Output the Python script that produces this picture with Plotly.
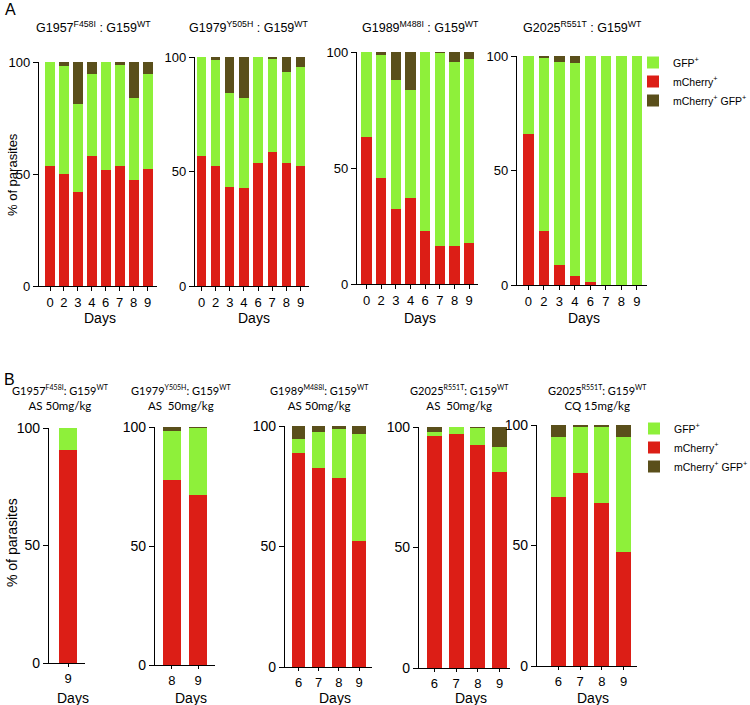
import plotly.graph_objects as go

W, H = 750, 705

# ---------------- DATA ----------------
# Panel A (no drug): segment heights (% of parasites)
a_days = ["0", "2", "3", "4", "6", "7", "8", "9"]

a1_title = "G1957<sup>F458I</sup> : G159<sup>WT</sup>"
a1_mcherry = [53.6, 50.0, 41.8, 57.9, 51.6, 53.6, 47.3, 52.4]
a1_gfp = [46.4, 48.4, 39.3, 36.9, 48.4, 44.9, 36.5, 42.4]
a1_double = [0.0, 1.6, 18.9, 5.2, 0.0, 1.5, 16.2, 5.2]

a2_title = "G1979<sup>Y505H</sup> : G159<sup>WT</sup>"
a2_mcherry = [56.6, 52.2, 43.4, 42.6, 53.9, 58.6, 53.9, 52.3]
a2_gfp = [43.4, 46.6, 40.9, 39.3, 46.1, 40.7, 39.5, 43.2]
a2_double = [0.0, 1.2, 15.7, 18.1, 0.0, 0.7, 6.6, 4.5]

a3_title = "G1989<sup>M488I</sup> : G159<sup>WT</sup>"
a3_mcherry = [63.3, 45.5, 32.4, 37.1, 22.7, 16.3, 16.3, 17.8]
a3_gfp = [36.7, 53.3, 55.5, 46.4, 77.3, 83.3, 79.5, 79.0]
a3_double = [0.0, 1.2, 12.1, 16.5, 0.0, 0.4, 4.2, 3.2]

a4_title = "G2025<sup>R551T</sup> : G159<sup>WT</sup>"
a4_mcherry = [66.1, 23.7, 8.7, 3.8, 1.5, 0.0, 0.0, 0.0]
a4_gfp = [33.9, 75.7, 88.5, 93.0, 98.5, 100.0, 100.0, 100.0]
a4_double = [0.0, 0.6, 2.8, 3.2, 0.0, 0.0, 0.0, 0.0]

# Panel B (drug treated)
SS = '<sup><span style="font-size:7px">{}</span></sup>'
L1 = '<span style="font-size:11px">{}</span>'
b1_title = L1.format("G1957" + SS.format("F458I") + ": G159" + SS.format("WT")) + "<br>AS 50mg/kg"
b1_days = ["9"]
b1_mcherry = [90.8]
b1_gfp = [9.2]
b1_double = [0.0]

b2_title = L1.format("G1979" + SS.format("Y505H") + ": G159" + SS.format("WT")) + "<br>AS  50mg/kg"
b2_days = ["8", "9"]
b2_mcherry = [77.9, 71.5]
b2_gfp = [20.3, 28.1]
b2_double = [1.8, 0.4]

b3_title = L1.format("G1989" + SS.format("M488I") + ": G159" + SS.format("WT")) + "<br>AS 50mg/kg"
b3_days = ["6", "7", "8", "9"]
b3_mcherry = [88.9, 82.6, 78.6, 52.4]
b3_gfp = [5.7, 14.9, 20.3, 44.3]
b3_double = [5.4, 2.5, 1.1, 3.3]

b4_title = L1.format("G2025" + SS.format("R551T") + ": G159" + SS.format("WT")) + "<br>AS  50mg/kg"
b4_days = ["6", "7", "8", "9"]
b4_mcherry = [96.1, 97.0, 92.5, 81.3]
b4_gfp = [2.0, 3.0, 7.1, 10.4]
b4_double = [1.9, 0.0, 0.4, 8.3]

b5_title = L1.format("G2025" + SS.format("R551T") + ": G159" + SS.format("WT")) + "<br>CQ 15mg/kg"
b5_days = ["6", "7", "8", "9"]
b5_mcherry = [70.0, 79.9, 67.8, 47.4]
b5_gfp = [25.0, 19.3, 31.4, 47.6]
b5_double = [5.0, 0.8, 0.8, 5.0]

series_names = ["mCherry<sup>+</sup>", "GFP<sup>+</sup>", "mCherry<sup>+</sup> GFP<sup>+</sup>"]
y_ticks = [0, 50, 100]

# ---------------- STYLE / LAYOUT ----------------
RED = "#dc1e16"
GREEN = "#8ef03a"
DARK = "#5a4f1b"
COLORS = [RED, GREEN, DARK]
RANKS = [2, 1, 3]
FONT = "Liberation Sans, Arial, Helvetica, sans-serif"
BFONT = "Lato, Open Sans, sans-serif"

def px_x(p):
    return p / W

def px_y(p):
    return 1 - p / H

# panel specs: (days, mcherry, gfp, double, title, x_axis_left, x_axis_right,
#               y_at_100, y_at_0, xrange, barwidth, title_x, group)
panels = [
    (a_days, a1_mcherry, a1_gfp, a1_double, a1_title, 39, 157, 62, 286, [-0.79, 7.68], 0.72, 93, "A"),
    (a_days, a2_mcherry, a2_gfp, a2_double, a2_title, 195, 309, 57, 286, [-0.46, 7.6], 0.66, 249, "A"),
    (a_days, a3_mcherry, a3_gfp, a3_double, a3_title, 357, 478, 52, 284, [-0.65, 7.6], 0.7, 420, "A"),
    (a_days, a4_mcherry, a4_gfp, a4_double, a4_title, 517, 647, 56, 285, [-0.74, 7.65], 0.7, 582, "A"),
    (b1_days, b1_mcherry, b1_gfp, b1_double, b1_title, 49, 85, 428, 663, [-0.53, 0.47], 0.5, 61, "B"),
    (b2_days, b2_mcherry, b2_gfp, b2_double, b2_title, 155, 215, 427, 665, [-0.65, 1.65], 0.69, 181, "B"),
    (b3_days, b3_mcherry, b3_gfp, b3_double, b3_title, 285, 372, 426, 667, [-0.67, 3.64], 0.67, 319, "B"),
    (b4_days, b4_mcherry, b4_gfp, b4_double, b4_title, 419, 510, 427, 668, [-0.71, 3.48], 0.69, 459, "B"),
    (b5_days, b5_mcherry, b5_gfp, b5_double, b5_title, 537, 637, 425, 666, [-0.99, 3.62], 0.69, 597, "B"),
]

fig = go.Figure()
layout = {}
annotations = []

for i, (days, m, g, d, title, xl, xr, y100, y0, xrng, bw, tx, grp) in enumerate(panels):
    n = "" if i == 0 else str(i + 1)
    xa, ya = "x" + n, "y" + n
    show_leg = (i == 0) or (i == 4)
    legend_id = "legend" if grp == "A" else "legend2"
    for k, vals in enumerate([m, g, d]):
        fig.add_trace(go.Bar(
            x=days, y=vals, xaxis=xa, yaxis=ya, width=bw,
            marker=dict(color=COLORS[k], line=dict(width=0)),
            name=series_names[k], showlegend=show_leg, legend=legend_id,
            legendrank=RANKS[k], hoverinfo="x+y+name",
        ))
    layout["xaxis" + n] = dict(
        domain=[px_x(xl), px_x(xr)], anchor=ya, type="category",
        categoryorder="array", categoryarray=days, range=xrng,
        tickmode="array", tickvals=days, ticktext=days, automargin=False,
        showline=True, linecolor="black", linewidth=1.3, mirror=False,
        ticks="outside", ticklen=4 if grp == "A" else 3, tickwidth=1.2, tickcolor="black",
        tickfont=dict(family=FONT, size=13, color="black"),
        showgrid=False, zeroline=False, fixedrange=True,
    )
    layout["yaxis" + n] = dict(
        domain=[px_y(y0), px_y(y100)], anchor=xa, range=[0, 100], automargin=False,
        tickvals=y_ticks, showline=True, linecolor="black", linewidth=1.3,
        ticks="outside", ticklen=5, tickwidth=1.2, tickcolor="black",
        tickfont=dict(family=FONT, size=13 if grp == "A" else 14, color="black"),
        showgrid=False, zeroline=False, fixedrange=True,
    )
    if grp == "A":
        annotations.append(dict(text=title, x=px_x(tx), y=px_y(27), xref="paper", yref="paper",
                                showarrow=False, xanchor="center", yanchor="middle",
                                font=dict(family=FONT, size=12.5, color="black")))
        annotations.append(dict(text="Days", x=px_x((xl + xr) / 2 + 2), y=px_y(318), xref="paper", yref="paper",
                                showarrow=False, xanchor="center", yanchor="middle",
                                font=dict(family=FONT, size=14, color="black")))
    else:
        annotations.append(dict(text=title, x=px_x(tx), y=px_y(397), xref="paper", yref="paper",
                                showarrow=False, xanchor="center", yanchor="middle", align="center",
                                font=dict(family=BFONT, size=11.5, color="black")))
        annotations.append(dict(text="Days", x=px_x((xl + xr) / 2 + 6), y=px_y(698), xref="paper", yref="paper",
                                showarrow=False, xanchor="center", yanchor="middle",
                                font=dict(family=FONT, size=14, color="black")))

# Y-axis titles
annotations.append(dict(text="% of parasites", x=px_x(12), y=px_y(175), xref="paper", yref="paper",
                        showarrow=False, textangle=-90, xanchor="center", yanchor="middle",
                        font=dict(family=FONT, size=13, color="black")))
annotations.append(dict(text="% of parasites", x=px_x(12), y=px_y(543), xref="paper", yref="paper",
                        showarrow=False, textangle=-90, xanchor="center", yanchor="middle",
                        font=dict(family=FONT, size=14, color="black")))
# Panel letters
annotations.append(dict(text="A", x=px_x(3), y=px_y(9), xref="paper", yref="paper",
                        showarrow=False, xanchor="left", yanchor="middle",
                        font=dict(family=FONT, size=16, color="black")))
annotations.append(dict(text="B", x=px_x(2), y=px_y(379), xref="paper", yref="paper",
                        showarrow=False, xanchor="left", yanchor="middle",
                        font=dict(family=FONT, size=16, color="black")))

layout.update(dict(
    width=W, height=H,
    margin=dict(l=0, r=0, t=0, b=0, autoexpand=False),
    paper_bgcolor="white", plot_bgcolor="white",
    barmode="stack", bargap=0.3,
    showlegend=True,
    legend=dict(x=px_x(633), y=px_y(48), xref="container", yref="container",
                xanchor="left", yanchor="top",
                traceorder="normal", font=dict(family=FONT, size=10.5, color="black"),
                bgcolor="rgba(0,0,0,0)", itemwidth=30, tracegroupgap=0),
    legend2=dict(x=px_x(634), y=px_y(414), xref="container", yref="container",
                 xanchor="left", yanchor="top",
                 traceorder="normal", font=dict(family=FONT, size=10.5, color="black"),
                 bgcolor="rgba(0,0,0,0)", itemwidth=30, tracegroupgap=0),
    annotations=annotations,
))
fig.update_layout(**layout)

page_fix = ("document.documentElement.style.margin='0px';"
            "document.body.style.margin='0px';"
            "document.documentElement.style.overflow='hidden';"
            "document.body.style.overflow='hidden';")
fig.write_html("out.html", config={"displayModeBar": False}, post_script=page_fix)
